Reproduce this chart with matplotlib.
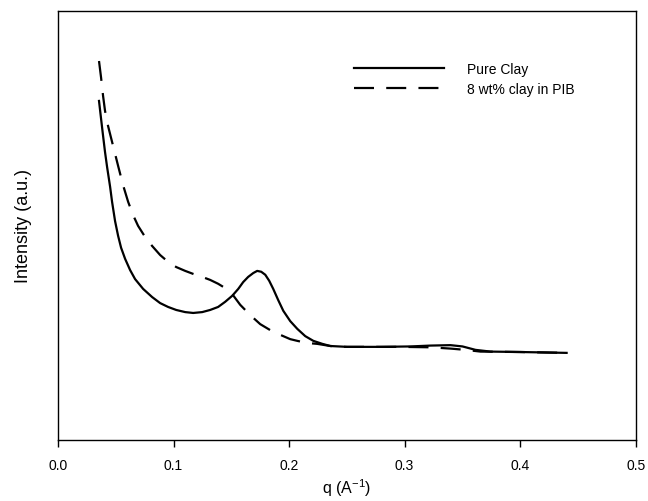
import numpy as np
import matplotlib
matplotlib.use('Agg')
import matplotlib.pyplot as plt

plt.rcParams['font.family'] = ['Liberation Sans', 'DejaVu Sans']
plt.rcParams['mathtext.default'] = 'regular'

# Pure clay (solid)
q_pure = [0.0355, 0.0373, 0.0390, 0.0407, 0.0425, 0.0451, 0.0468, 0.0494, 0.0520,
          0.0546, 0.0581, 0.0624, 0.0667, 0.0737, 0.0815, 0.0884, 0.0953, 0.1023,
          0.1101, 0.1170, 0.1248, 0.1317, 0.1386, 0.1447, 0.1508, 0.1560, 0.1603,
          0.1646, 0.1690, 0.1724, 0.1759, 0.1794, 0.1828, 0.1863, 0.1906, 0.1950,
          0.2010, 0.2071, 0.2140, 0.2210, 0.2288, 0.2357, 0.2504, 0.2790, 0.3050,
          0.3224, 0.3397, 0.3501, 0.3614, 0.3744, 0.4003, 0.4402]
i_pure = [7.90, 7.48, 7.09, 6.71, 6.36, 5.90, 5.55, 5.10, 4.76,
          4.48, 4.22, 3.96, 3.75, 3.52, 3.33, 3.19, 3.10, 3.03,
          2.98, 2.96, 2.98, 3.03, 3.10, 3.22, 3.36, 3.52, 3.68,
          3.80, 3.89, 3.94, 3.92, 3.85, 3.71, 3.52, 3.26, 3.01,
          2.77, 2.59, 2.42, 2.31, 2.24, 2.19, 2.17, 2.17, 2.18,
          2.20, 2.21, 2.18, 2.10, 2.06, 2.05, 2.03]

# 8 wt% clay in PIB (dashed)
q_pib = [0.0355, 0.0373, 0.0390, 0.0407, 0.0433, 0.0477, 0.0520, 0.0563, 0.0607,
         0.0650, 0.0693, 0.0754, 0.0815, 0.0884, 0.0953, 0.1023, 0.1101, 0.1170,
         0.1248, 0.1317, 0.1386, 0.1447, 0.1508, 0.1577, 0.1664, 0.1750, 0.1837,
         0.1924, 0.2010, 0.2071, 0.2158, 0.2244, 0.2357, 0.2487, 0.2964, 0.3224,
         0.3397, 0.3527, 0.3657, 0.4003, 0.4402]
i_pib = [8.83, 8.44, 8.02, 7.67, 7.32, 6.85, 6.39, 5.94, 5.55,
         5.24, 4.99, 4.73, 4.52, 4.31, 4.15, 4.03, 3.94, 3.87,
         3.80, 3.73, 3.64, 3.54, 3.40, 3.15, 2.91, 2.70, 2.56,
         2.45, 2.35, 2.31, 2.26, 2.24, 2.19, 2.17, 2.17, 2.16,
         2.13, 2.10, 2.06, 2.05, 2.03]

fig = plt.figure(figsize=(6.48, 5.02), dpi=100)
ax = fig.add_axes([0.0895, 0.1215, 0.8915, 0.855])

ax.plot(q_pure, i_pure, color='black', lw=1.6, label='Pure Clay')
ax.plot(q_pib, i_pib, color='black', lw=1.6, dashes=(9, 5.5), label='8 wt% clay in PIB')

ax.set_xlim(0.0, 0.5)
ax.set_ylim(0, 10)
ax.set_xticks([0.0, 0.1, 0.2, 0.3, 0.4, 0.5])
ax.set_xticklabels(['0.0', '0.1', '0.2', '0.3', '0.4', '0.5'])
ax.set_yticks([])
ax.tick_params(axis='x', direction='out', length=5, width=1, labelsize=10, pad=8)
for s in ax.spines.values():
    s.set_linewidth(1.0)

ax.set_xlabel('q (A$^{-1}$)', fontsize=11.5, labelpad=3)
ax.set_ylabel('Intensity (a.u.)', fontsize=13, labelpad=19)

ax.legend(loc='upper left', bbox_to_anchor=(0.491, 0.91), frameon=False, fontsize=10,
          handlelength=6.5, handletextpad=1.65, labelspacing=0.45)

fig.savefig('out.png', dpi=100)
